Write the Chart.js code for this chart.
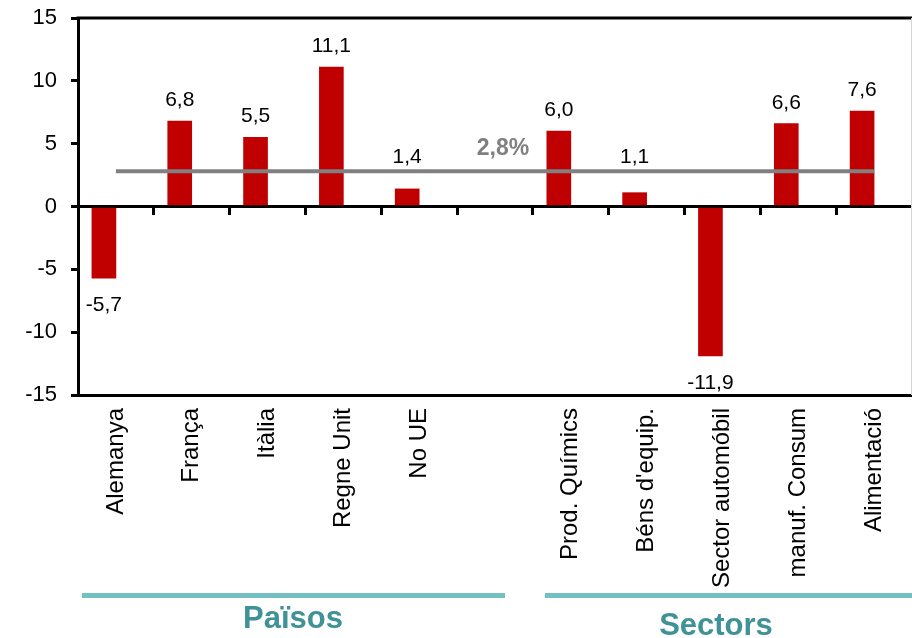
<!DOCTYPE html>
<html>
<head>
<meta charset="utf-8">
<script src="https://cdn.jsdelivr.net/npm/chart.js@4.4.0/dist/chart.umd.min.js"></script>
<style>
html,body{margin:0;padding:0;background:#fff;overflow:hidden;}
#wrap{width:912px;height:638px;position:relative;}
canvas{display:block;}
</style>
</head>
<body>
<div id="wrap"><canvas id="grafic" width="912" height="638"></canvas></div>
<script>
// dades
const categories = ["Alemanya","França","Itàlia","Regne Unit","No UE","",
  "Prod. Químics","Béns d'equip.","Sector automóbil","manuf. Consum","Alimentació"];
const variacio = [-5.7, 6.8, 5.5, 11.1, 1.4, null, 6.0, 1.1, -11.9, 6.6, 7.6];
const buida = [null,null,null,null,null,null,null,null,null,null,null];
const mitjana = [2.8,2.8,2.8,2.8,2.8,2.8,2.8,2.8,2.8,2.8,2.8];
const etiquetaMitjana = "2,8%";
const yTicks = [-15,-10,-5,0,5,10,15];
const grups = ["Països","Sectors"];

const FONT = "'Liberation Sans', Arial, sans-serif";
const fmt = v => v.toFixed(1).replace(".", ",");

// etiquetes de valor
const etiquetes = {
  id: "etiquetes",
  afterDatasetsDraw(chart){
    const ctx = chart.ctx;
    const barres = chart.getDatasetMeta(0).data;
    const linia = chart.getDatasetMeta(2).data;
    ctx.save();
    ctx.font = "21px " + FONT;
    ctx.fillStyle = "#000";
    ctx.textAlign = "center";
    ctx.textBaseline = "alphabetic";
    barres.forEach((el, i) => {
      const v = variacio[i];
      if (v === null) return;
      if (v >= 0) {
        const y = Math.min(el.y - 15, linia[i].y - 8);
        ctx.fillText(fmt(v), el.x, y);
      } else {
        ctx.fillText(fmt(v), el.x, el.y + 33);
      }
    });
    // mitjana
    const p = linia[5];
    ctx.font = "bold 23px " + FONT;
    ctx.fillStyle = "#808080";
    ctx.fillText(etiquetaMitjana, p.x + 8, p.y - 16);
    ctx.restore();
  }
};

// marc i grups
const decoracio = {
  id: "decoracio",
  afterDraw(chart){
    const ctx = chart.ctx;
    const a = chart.chartArea;
    ctx.save();
    ctx.strokeStyle = "#000";
    ctx.lineWidth = 3;
    ctx.beginPath();
    ctx.moveTo(a.left - 1.5, a.top);
    ctx.lineTo(a.right, a.top);
    ctx.stroke();
    ctx.strokeStyle = "#d4d4d4";
    ctx.lineWidth = 1;
    ctx.beginPath();
    ctx.moveTo(a.right - 0.5, a.top);
    ctx.lineTo(a.right - 0.5, a.bottom);
    ctx.stroke();

    ctx.strokeStyle = "#74bfc2";
    ctx.lineWidth = 5;
    ctx.beginPath();
    ctx.moveTo(82, 595.5); ctx.lineTo(505, 595.5);
    ctx.moveTo(545, 595.5); ctx.lineTo(912, 595.5);
    ctx.stroke();

    ctx.font = "bold 31px " + FONT;
    ctx.fillStyle = "#3f9296";
    ctx.textAlign = "center";
    ctx.textBaseline = "alphabetic";
    ctx.fillText(grups[0], 293, 628);
    ctx.fillText(grups[1], 716, 635);
    ctx.restore();
  }
};

new Chart(document.getElementById("grafic"),{
  type:"bar",
  data:{
    labels: categories,
    datasets:[{
      label:"Variació",
      data: variacio,
      backgroundColor:"#c00000",
      barThickness:24,
      order:1
    },{
      label:"",
      data: buida,
      backgroundColor:"rgba(0,0,0,0)",
      barThickness:24,
      order:1
    },{
      type:"line",
      label:"Mitjana",
      data: mitjana,
      borderColor:"#808080",
      borderWidth:4,
      pointRadius:0,
      fill:false,
      order:0
    }]
  },
  options:{
    responsive:false,
    animation:false,
    devicePixelRatio:1,
    layout:{padding:{top:18,right:0,bottom:0,left:0}},
    plugins:{legend:{display:false},tooltip:{enabled:false}},
    scales:{
      x:{
        type:"category",
        position:"bottom",
        offset:true,
        afterFit(s){ s.height = 243; s.paddingLeft = 0; s.paddingRight = 0; },
        grid:{display:false, drawTicks:false},
        border:{display:true, color:"#000", width:3},
        ticks:{
          autoSkip:false, maxRotation:90, minRotation:90, padding:13,
          color:"#000", font:{family:FONT, size:24}
        }
      },
      x2:{
        type:"category",
        position:{y:0},
        offset:true,
        grid:{display:true, drawOnChartArea:false, drawTicks:true, tickLength:7, color:"#000", lineWidth:3, offset:true},
        border:{display:true, color:"#000", width:3},
        ticks:{display:false}
      },
      y:{
        min:-15, max:15,
        afterFit(s){ s.width = 78; s.paddingTop = 0; s.paddingBottom = 0; },
        afterBuildTicks(s){ s.ticks = yTicks.map(v => ({value:v})); },
        grid:{drawOnChartArea:false, drawTicks:true, tickLength:7, color:"#000", lineWidth:3},
        border:{display:true, color:"#000", width:3},
        ticks:{stepSize:5, padding:14, color:"#000", font:{family:FONT, size:22}}
      }
    }
  },
  plugins:[etiquetes, decoracio]
});
</script>
</body>
</html>
